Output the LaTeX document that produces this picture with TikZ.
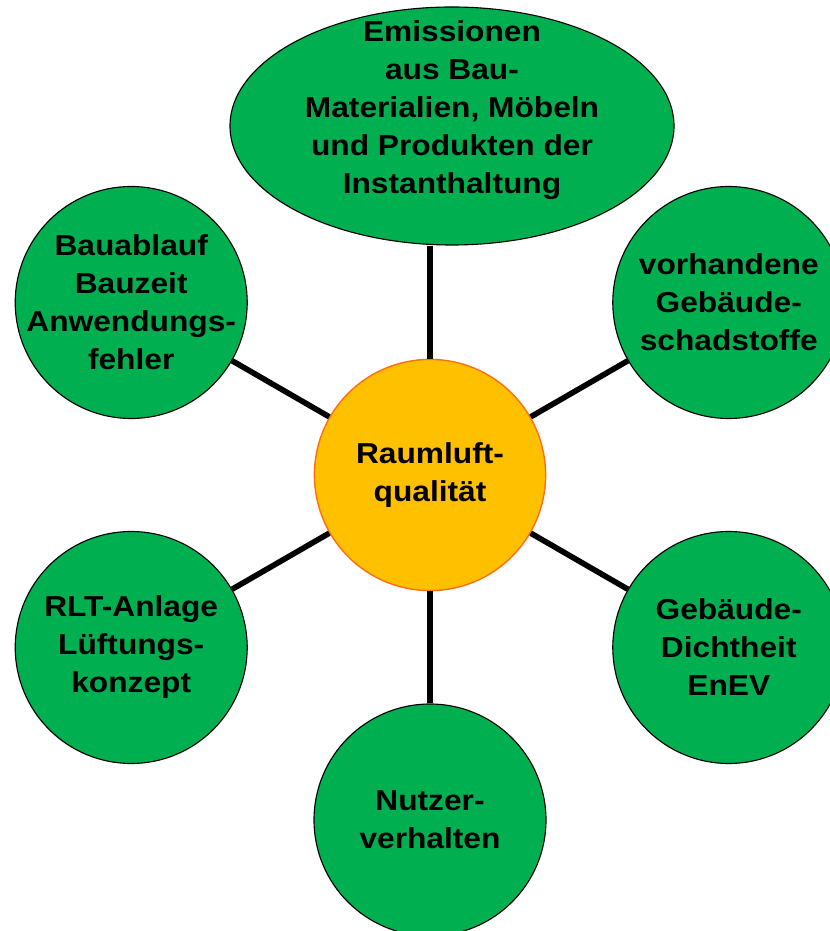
\documentclass[tikz,border=0pt]{standalone}
\usepackage{fontspec}
\setmainfont{Liberation Sans}[FakeStretch=1.1]
\definecolor{FactorColor}{RGB}{0,176,80}
\definecolor{HubColor}{RGB}{255,192,0}
\definecolor{HubBorder}{RGB}{255,110,20}
\usetikzlibrary{shapes.geometric}
\tikzstyle{factor} = [circle, minimum size=5.8cm, inner sep=-1cm, draw=black, line width=0.8pt, fill=FactorColor, align=center]
\tikzstyle{hub} = [circle, minimum size=5.78cm, draw=HubBorder, line width=1pt, fill=HubColor, align=center]
\tikzstyle{cloud} = [ellipse, minimum width=11.1cm, minimum height=5.95cm, draw=black, line width=0.8pt, fill=FactorColor]
\tikzstyle{link} = [line width=4pt, black]

\begin{document}
\begin{tikzpicture}[every node/.style={font=\fontsize{20.5}{27}\selectfont\bfseries}]
  \useasboundingbox (-10.75,-11.4) rectangle (9.975,11.875);

  % Central topic
  \node[hub] (air) at (0,0) {Raumluft-\\qualität};

  % Emission sources on top
  \node[cloud] (emis) at (0.55,8.725) {};
  \node[align=center] (emistext) at ([yshift=0.4cm]emis.center) {Emissionen\\aus Bau-\\Materialien, Möbeln\\und Produkten der\\Instanthaltung};

  % Surrounding factors
  \node[factor] (bau) at (150:8.625) {Bauablauf\\Bauzeit\\Anwendungs-\\fehler};
  \node[factor] (schad) at (30:8.625) {vorhandene\\Gebäude-\\schadstoffe};
  \node[factor] (dicht) at (-30:8.625) {Gebäude-\\Dichtheit\\EnEV};
  \node[factor] (rlt) at (210:8.625) {RLT-Anlage\\Lüftungs-\\konzept};
  \node[factor] (nutzer) at (270:8.625) {Nutzer-\\verhalten};

  % Spokes
  \draw[link] (air.north) -- (air.north |- emis.south);
  \draw[link] (air) -- (bau);
  \draw[link] (air) -- (schad);
  \draw[link] (air) -- (dicht);
  \draw[link] (air) -- (rlt);
  \draw[link] (air) -- (nutzer);
\end{tikzpicture}
\end{document}
